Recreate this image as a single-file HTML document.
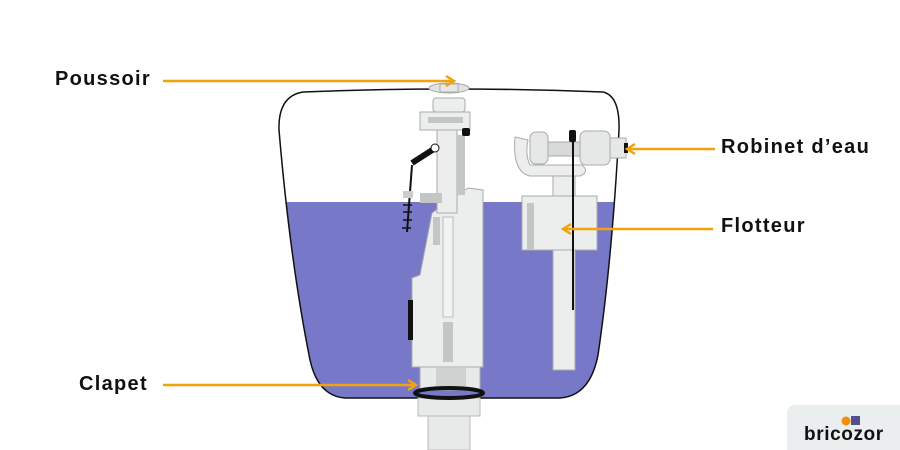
<!DOCTYPE html>
<html><head><meta charset="utf-8"><style>
html,body{margin:0;padding:0;background:#fff;}
svg{display:block;}
text{font-family:"Liberation Sans",sans-serif;font-weight:bold;}
</style></head><body>
<svg width="900" height="450" viewBox="0 0 900 450" xmlns="http://www.w3.org/2000/svg">
<defs>
<clipPath id="tank"><path d="M303,92 Q450,86 603,92 Q620,96 619,130 Q612,260 598,355 Q590,396 560,398 L345,398 Q318,396 310,360 Q290,260 279,130 Q278,96 303,92 Z"/></clipPath>
</defs>
<rect x="270" y="202" width="360" height="200" fill="#7878c8" clip-path="url(#tank)"/>
<path d="M303,92 Q450,86 603,92 Q620,96 619,130 Q612,260 598,355 Q590,396 560,398 L345,398 Q318,396 310,360 Q290,260 279,130 Q278,96 303,92 Z" fill="none" stroke="#111" stroke-width="1.5"/>
<!-- pipe below -->
<rect x="428" y="415" width="42" height="35" fill="#e8eaea" stroke="#bbb"/>
<rect x="418" y="398" width="62" height="18" fill="#e8eaea" stroke="#bbb"/>
<!-- flush valve -->
<rect x="420" y="365" width="60" height="25" fill="#e8eaea" stroke="#aaa"/>
<rect x="436" y="368" width="30" height="18" fill="#d0d2d2"/>
<ellipse cx="449" cy="393" rx="34" ry="5" fill="none" stroke="#111" stroke-width="4"/>
<path d="M412,278 L420,275 L432,213 L450,200 L468,188 L483,190 L483,367 L412,367 Z" fill="#eceeee" stroke="#aaa"/>
<rect x="433" y="217" width="7" height="28" fill="#c4c6c6"/>
<rect x="443" y="217" width="10" height="100" fill="#f2f3f3" stroke="#bbb"/>
<rect x="443" y="322" width="10" height="40" fill="#c4c6c6"/>
<rect x="408" y="300" width="5" height="40" fill="#111"/>
<rect x="437" y="110" width="20" height="103" fill="#eceeee" stroke="#aaa"/>
<rect x="457" y="135" width="8" height="60" fill="#c4c6c6"/>
<rect x="420" y="112" width="50" height="18" fill="#eceeee" stroke="#aaa"/>
<rect x="428" y="117" width="35" height="6" fill="#c4c6c6"/>
<rect x="462" y="128" width="8" height="8" rx="2" fill="#111"/>
<rect x="420" y="193" width="22" height="10" fill="#c4c6c6"/>
<line x1="412" y1="163" x2="437" y2="147" stroke="#111" stroke-width="6"/>
<circle cx="435" cy="148" r="4" fill="#fff" stroke="#111"/>
<line x1="412" y1="165" x2="407" y2="232" stroke="#111" stroke-width="2"/>
<g stroke="#111" stroke-width="1.5"><line x1="403" y1="205" x2="412" y2="205"/><line x1="403" y1="212" x2="412" y2="212"/><line x1="403" y1="220" x2="412" y2="220"/><line x1="402" y1="228" x2="411" y2="228"/></g>
<rect x="403" y="191" width="10" height="7" fill="#ccc"/>
<rect x="433" y="98" width="32" height="14" rx="3" fill="#eceeee" stroke="#aaa"/>
<ellipse cx="449" cy="88" rx="20" ry="5" fill="#e0e2e2" stroke="#aaa"/>
<rect x="440" y="84" width="18" height="8" fill="#e6e8e8" stroke="#aaa"/>
<!-- float valve -->
<rect x="553" y="250" width="22" height="120" fill="#eceeee" stroke="#aaa"/>
<rect x="553" y="165" width="22" height="35" fill="#eceeee" stroke="#aaa"/>
<path d="M515,137 Q512,172 530,176 L580,176 Q590,172 582,165 L530,165 Q525,155 528,140 Z" fill="#eceeee" stroke="#aaa"/>
<rect x="530" y="132" width="18" height="32" rx="6" fill="#e6e8e8" stroke="#aaa"/>
<rect x="548" y="142" width="32" height="14" fill="#d8dada" stroke="#aaa"/>
<rect x="580" y="131" width="30" height="34" rx="6" fill="#e6e8e8" stroke="#aaa"/>
<rect x="610" y="138" width="16" height="20" fill="#e6e8e8" stroke="#aaa"/>
<rect x="624" y="143" width="4" height="10" fill="#111"/>
<rect x="522" y="196" width="75" height="54" fill="#eceeee" stroke="#aaa"/>
<rect x="527" y="203" width="7" height="47" fill="#c4c6c6"/>
<line x1="573" y1="135" x2="573" y2="310" stroke="#111" stroke-width="2"/>
<rect x="569" y="130" width="7" height="12" rx="2" fill="#111"/>
<!-- arrows -->
<g stroke="#f0a30a" stroke-width="2.5" fill="none">
<line x1="163" y1="81" x2="453" y2="81"/><path d="M446,76 L454,81 L446,86"/>
<line x1="715" y1="149" x2="628" y2="149"/><path d="M635,144 L627,149 L635,154"/>
<line x1="713" y1="229" x2="564" y2="229"/><path d="M571,224 L563,229 L571,234"/>
<line x1="163" y1="385" x2="415" y2="385"/><path d="M408,380 L416,385 L408,390"/>
</g>
<g font-size="20" fill="#111" letter-spacing="1.3">
<text x="55" y="85">Poussoir</text>
<text x="721" y="153">Robinet d’eau</text>
<text x="721" y="232">Flotteur</text>
<text x="79" y="390">Clapet</text>
</g>
<!-- logo -->
<rect x="787" y="405" width="125" height="60" rx="8" fill="#eaeeee"/>
<circle cx="846" cy="421" r="4.5" fill="#f0900a"/>
<rect x="851" y="416" width="9" height="9" fill="#55508a"/>
<text x="804" y="440" font-size="19" fill="#111" letter-spacing="0.6">bricozor</text>
</svg>
</body></html>
